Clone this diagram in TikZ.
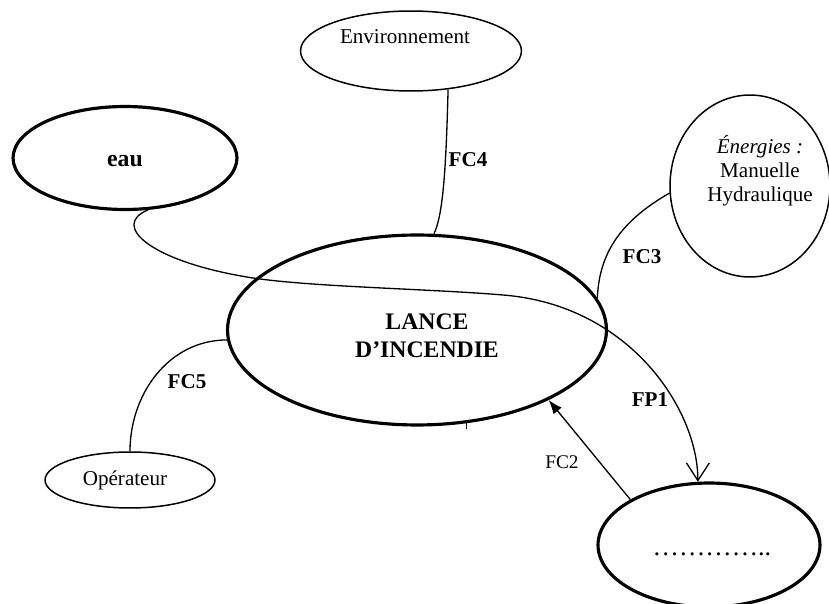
\documentclass[tikz,border=0pt]{standalone}
\usepackage{fontspec}
\setmainfont{Liberation Serif}
\usepackage{tikz}
\usetikzlibrary{shapes.geometric,arrows.meta}

\begin{document}
\begin{tikzpicture}[x=0.02cm,y=-0.02cm,
            bulle/.style={ellipse,draw,line width=0.85pt,inner sep=0pt},
            grosse/.style={ellipse,draw,line width=1.8pt,inner sep=0pt},
            lien/.style={line width=0.75pt},
            etiq/.style={font=\fontsize{12}{14}\selectfont\bfseries,inner sep=0pt}]
            \useasboundingbox (0,0) rectangle (829,604);

            \node[bulle,minimum width=4.42cm,minimum height=1.6cm] at (411,51) (E) {};
            \node[font=\fontsize{12}{14}\selectfont] at (405,37) (Et) {Environnement};
            \node[grosse,minimum width=4.48cm,minimum height=2.06cm] at (125,158) (W) {};
            \node[font=\fontsize{13.5}{16}\selectfont\bfseries] at (125,161) (Wt) {eau};
            \node[bulle,minimum width=3.2cm,minimum height=3.64cm] at (750,186) (N) {};
            \node[font=\fontsize{12}{13.6}\selectfont,align=center] at (760,171) (Nt) {\textit{Énergies :}\\Manuelle\\Hydraulique};
            \node[grosse,minimum width=7.58cm,minimum height=3.8cm] at (417,330) (L) {};
            \node[font=\fontsize{13.5}{16}\selectfont\bfseries,align=center] at (427,336) (Lt) {LANCE\\D’INCENDIE};
            \node[bulle,minimum width=3.4cm,minimum height=1.12cm] at (130,480) (O) {};
            \node[font=\fontsize{12}{14}\selectfont] at (125,480) (Ot) {Opérateur};
            \node[grosse,minimum width=4.44cm,minimum height=2.48cm] at (709,545) (D) {};
            \node[font=\fontsize{15}{18}\selectfont,anchor=base] at (712,556) (Dt) {…………..};

            % fonctions
            \draw[lien,-{Straight Barb[length=10pt,width=13pt]}] (W.-66)
                .. controls (110,225) and (150,262) .. (253,278)
                .. controls (313,287) and (433,289) .. (503,295)
                .. controls (630,305) and (698,410) .. (D.100);
            \draw[lien,-{Latex[length=8pt,width=6pt]}] (D.150) -- (L.-28);
            \draw[lien] (E.-46) .. controls (446,170) and (443,215) .. (L.80);
            \draw[lien] (N.185) to[out=210,in=88] (L.10);
            \draw[lien] (L.183) to[out=180,in=90] (O.north);
            \draw[lien] (L.-62) -- ++(0,6);

            \node[etiq] at (468,160) (fc4) {FC4};
            \node[etiq] at (642,257) (fc3) {FC3};
            \node[etiq] at (187,382) (fc5) {FC5};
            \node[etiq] at (650,400) (fp1) {FP1};
            \node[font=\fontsize{11}{13}\selectfont,inner sep=0pt] at (562,462) (fc2) {FC2};
        \end{tikzpicture}
\end{document}
